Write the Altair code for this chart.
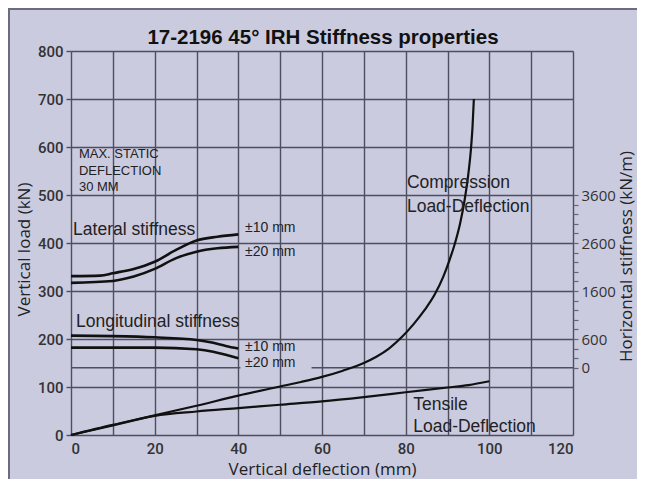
import altair as alt
import pandas as pd

# ---- data ----
# Compression load-deflection (mm, kN)
comp_x = [0, 10, 20, 30, 40, 50, 55, 60, 65, 70, 73, 76, 79.2, 82, 84.5, 86.9, 89, 90.5, 91.7, 93, 94.1, 95, 95.6, 96, 96.3]
comp_y = [0, 20, 41, 61, 82, 101, 110.5, 121, 134, 150, 163, 180, 205, 232, 260, 292, 330, 365, 397, 440, 490, 545, 595, 645, 700]
# Tensile load-deflection (mm, kN)
tens_x = [0, 10, 20, 30, 40, 50, 60, 70, 80, 90, 95, 100]
tens_y = [0, 21, 40, 49, 56, 63, 70, 79, 89, 99, 104, 112]
# Lateral stiffness (mm, kN/m)
lat10_x = [0, 7, 10, 15, 20, 25, 30, 35, 40]
lat10_k = [1910, 1920, 1970, 2060, 2210, 2450, 2650, 2730, 2780]
lat20_x = [0, 10, 15, 20, 25, 30, 35, 40]
lat20_k = [1770, 1810, 1900, 2060, 2280, 2420, 2490, 2520]
# Longitudinal stiffness (mm, kN/m)
lon10_x = [0, 10, 20, 30, 34, 37, 40]
lon10_k = [670, 660, 635, 580, 520, 455, 400]
lon20_x = [0, 10, 20, 30, 34, 37, 40]
lon20_k = [420, 420, 420, 385, 335, 270, 200]

x_ticks = list(range(0, 121, 10))
y_ticks = list(range(0, 801, 100))
k_ticks = list(range(0, 3601, 200))
k_labels = [0, 600, 1600, 2600, 3600]

title_text = "17-2196 45\u00b0 IRH Stiffness properties"

load_rows = []
for name, xs, ys in [("comp", comp_x, comp_y), ("tens", tens_x, tens_y)]:
    for a, b in zip(xs, ys):
        load_rows.append({"series": name, "x": a, "y": b})
load_df = pd.DataFrame(load_rows)

stiff_rows = []
for name, xs, ks in [("lat10", lat10_x, lat10_k), ("lat20", lat20_x, lat20_k),
                     ("lon10", lon10_x, lon10_k), ("lon20", lon20_x, lon20_k)]:
    for a, b in zip(xs, ks):
        stiff_rows.append({"series": name, "x": a, "k": b})
stiff_df = pd.DataFrame(stiff_rows)

# zero-stiffness reference line (load 140) drawn in two pieces
zero_df = pd.DataFrame({"x": [0, 57.5], "x2": [40.5, 120], "y": [140, 140]})

note_df = pd.DataFrame({"x": [1.9, 1.9, 1.9], "y": [585, 550, 517],
                        "t": ["MAX. STATIC", "DEFLECTION", "30 MM"]})
name_df = pd.DataFrame({"x": [0.5, 1.2, 80.3, 80.3, 81.8, 81.8],
                        "y": [427, 235, 525, 475, 62, 16.5],
                        "t": ["Lateral stiffness", "Longitudinal stiffness", "Compression",
                              "Load-Deflection", "Tensile", "Load-Deflection"]})
pm_df = pd.DataFrame({"x": [41.6, 41.6, 41.6, 41.6], "y": [431, 381, 183, 150],
                      "t": ["\u00b110 mm", "\u00b120 mm", "\u00b110 mm", "\u00b120 mm"]})

GRID = "#4e4e5e"
TXT = "#222222"

x_axis = alt.Axis(values=x_ticks, labelExpr="datum.value % 20 == 0 ? datum.label : ''",
                  grid=True, gridColor=GRID, gridWidth=1.4, domain=False, tickSize=0,
                  labelFont="Roboto", labelFontWeight=500, labelFontSize=15, labelColor="#333333",
                  labelPadding=6, labelOverlap=False,
                  title="Vertical deflection (mm)", titleFont="Open Sans", titleFontSize=17,
                  titleFontWeight="normal", titleColor=TXT,
                  titleAlign="center", titleBaseline="middle", titleX=251, titleY=34)
y_axis = alt.Axis(values=y_ticks, format="d", grid=True, gridColor=GRID, gridWidth=1.4,
                  domain=False, tickSize=5, tickColor=GRID, tickWidth=1.4,
                  labelFont="Roboto", labelFontWeight=500, labelFontSize=15, labelColor="#333333",
                  labelPadding=3,
                  title="Vertical load (kN)", titleFont="Open Sans", titleFontSize=17,
                  titleFontWeight="normal", titleColor=TXT, titleAngle=270,
                  titleAlign="center", titleBaseline="middle", titleX=-47, titleY=198)

X = alt.X("x:Q", scale=alt.Scale(domain=[0, 120], nice=False), axis=x_axis)
def Y(field):
    return alt.Y(field, scale=alt.Scale(domain=[0, 800], nice=False), axis=y_axis)

zero_line = alt.Chart(zero_df).mark_rule(color=GRID, strokeWidth=1.4).encode(
    x=X, x2="x2:Q", y=Y("y:Q"))

load_lines = alt.Chart(load_df).mark_line(color="#111111", strokeWidth=2.2,
                                          interpolate="monotone").encode(
    x=X, y=Y("y:Q"), detail="series:N")

stiff_lines = alt.Chart(stiff_df).transform_calculate(
    load="datum.k / 10 + 140").mark_line(color="#111111", strokeWidth=2.6,
                                         interpolate="monotone").encode(
    x=X, y=Y("load:Q"), detail="series:N")

notes = alt.Chart(note_df).mark_text(align="left", baseline="middle", font="Liberation Sans",
                                     fontSize=13, color=TXT).encode(
    x=X, y=Y("y:Q"), text="t:N")
names = alt.Chart(name_df).mark_text(align="left", baseline="middle", font="Liberation Sans",
                                     fontSize=17.5, color=TXT).encode(
    x=X, y=Y("y:Q"), text="t:N")
pms = alt.Chart(pm_df).mark_text(align="left", baseline="middle", font="Liberation Sans",
                                 fontSize=14, color=TXT).encode(
    x=X, y=Y("y:Q"), text="t:N")

frame_src = alt.Data(values=[{"a": 1}])
left_border = alt.Chart(frame_src).mark_rule(color="#6c6c7c", strokeWidth=2).encode(
    x=alt.value(-62), y=alt.value(-43), y2=alt.value(430))
top_border = alt.Chart(frame_src).mark_rule(color="#6c6c7c", strokeWidth=2).encode(
    x=alt.value(-63), x2=alt.value(570), y=alt.value(-42))
title_mark = alt.Chart(frame_src).mark_text(
    text=title_text, font="Liberation Sans", fontSize=20.5, fontWeight="bold",
    color="#111111", align="center", baseline="alphabetic").encode(
    x=alt.value(252), y=alt.value(-7))

left = alt.layer(zero_line, load_lines, stiff_lines, notes, names, pms)

right_axis = alt.Axis(orient="right", values=k_ticks, format="d",
                      labelExpr="indexof(" + str(k_labels) + ", datum.value) >= 0 ? datum.label : ''",
                      labelOverlap=False, grid=False, domain=False, tickSize=5, tickColor="#666677",
                      tickWidth=1.2, labelFont="Open Sans", labelFontSize=15, labelColor="#333333",
                      labelPadding=3,
                      title="Horizontal stiffness (kN/m)", titleFont="Open Sans", titleFontSize=17,
                      titleFontWeight="normal", titleColor=TXT, titleAngle=270,
                      titleAlign="center", titleBaseline="middle", titleX=53, titleY=205)
right = alt.Chart(stiff_df).mark_point(opacity=0).encode(
    y=alt.Y("k:Q", scale=alt.Scale(domain=[-1400, 6600], nice=False, zero=False), axis=right_axis))

chart = alt.layer(left, right, left_border, top_border, title_mark).resolve_scale(y="independent").properties(
    width=502, height=384,
    autosize=alt.AutoSizeParams(type="none"),
    padding={"left": 63, "top": 43, "right": 64, "bottom": 44},
).configure(background="#cbcbe0").configure_view(stroke=None)

chart.save("out.html", embed_options={"renderer": "svg", "actions": False})
